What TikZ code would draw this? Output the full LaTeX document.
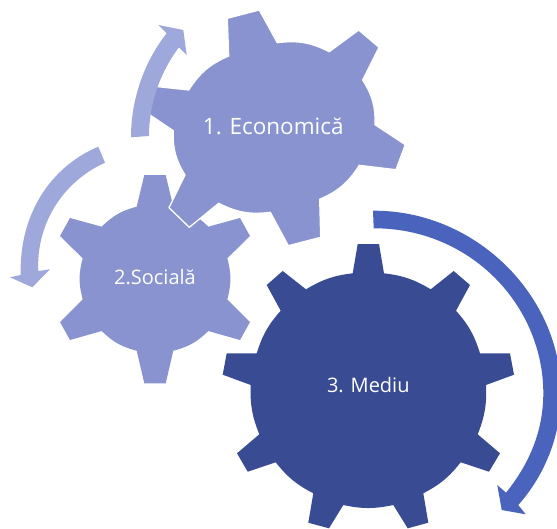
\documentclass[tikz,border=0pt]{standalone}
\usepackage{fontspec}
\setmainfont{Open Sans}
\definecolor{gearlight}{HTML}{8893CF}
\definecolor{geardark}{HTML}{394B93}
\definecolor{arrowlight}{HTML}{9FA8DA}
\definecolor{arrowdark}{HTML}{4A63BD}
\tikzset{
  gearsoft/.style={fill=gearlight},
  gearedge/.style={fill=gearlight,draw=white,line width=1.3pt,line join=miter},
  gearhard/.style={fill=geardark},
  turnsoft/.style={fill=arrowlight},
  turnhard/.style={fill=arrowdark},
  gearlabel/.style={text=white,inner sep=0pt}
}
\begin{document}
\begin{tikzpicture}[x=1pt,y=-1pt]
\path[use as bounding box] (0,0) rectangle (557,528);
\clip (0,0) rectangle (557,528);
% second gear
\path[gearsoft] (144.3,175) -- (165.7,175) -- (173.3,206.7) to[bend left=15] (208.3,226.7)
  -- (240,218) -- (250,236) -- (227.3,258.3) to[bend left=15] (227.3,299.3)
  -- (250,322) -- (240,340) -- (208.3,331) to[bend left=15] (173.3,350.7)
  -- (165.7,383.3) -- (144.3,383.3) -- (136.7,350.7) to[bend left=15] (101.7,331)
  -- (70,340) -- (60,322) -- (82.7,299.3) to[bend left=15] (82.7,258.3)
  -- (60,236) -- (70,218) -- (101.7,226.7) to[bend left=15] (136.7,206.7) -- cycle;
% first gear
\path[gearedge] (227.3,18.3) -- (259.3,10) -- (277.3,42.7) to[bend left=17] (329.3,51.7)
  -- (358.7,30) -- (379,47.3) -- (362.7,80) to[bend left=17] (375,124.7)
  -- (405.3,144.7) -- (396,169.7) -- (359.3,165.3) to[bend left=17] (319.7,199.3)
  -- (320.7,237.3) -- (288.3,245.7) -- (270.3,212.3) to[bend left=17] (218.7,203.3)
  -- (189.3,227.3) -- (169,207.7) -- (185,175) to[bend left=17] (173.3,130.7)
  -- (142.7,110) -- (151.7,86) -- (188.7,90) to[bend left=17] (228.7,56) -- cycle;
% third gear
\path[gearhard] (357.7,244) -- (379,244) -- (384,273.3) to[bend left=12] (430.7,289.3)
  -- (453.7,271) -- (470,285) -- (456,310.7) to[bend left=12] (480,353.3)
  -- (510,353.3) -- (514,374.7) -- (486,385) to[bend left=12] (477.7,434.3)
  -- (500,453.3) -- (489,471.7) -- (460.7,462.3) to[bend left=12] (423.3,493.3)
  -- (428.3,522.7) -- (407.7,528.3) -- (393.3,505) to[bend left=12] (343.3,505)
  -- (329,528.3) -- (308.3,522.7) -- (313.3,493.3) to[bend left=12] (275.7,462.3)
  -- (247.7,471.7) -- (237,453.3) -- (259.3,434.3) to[bend left=12] (250.7,385)
  -- (222.7,374.7) -- (226.7,353.3) -- (256.7,353.3) to[bend left=12] (280.7,310.7)
  -- (266.7,285) -- (282.7,271) -- (306,289.3) to[bend left=12] (352.7,273.3) -- cycle;
% turning arrows
\path[turnsoft] (131,137.3) .. controls (131,95) and (147,58) .. (166.7,33.3)
  -- (158.3,25) -- (183.3,30) -- (186.7,55) -- (179,47.3)
  .. controls (163,68) and (149,100) .. (149,136) -- cycle;
\path[turnsoft] (98.3,146.7) .. controls (50,167) and (19,215) .. (20.7,275)
  -- (10,277.3) -- (32.3,287.3) -- (50,269.3) -- (38.3,271)
  .. controls (36,225) and (62,182) .. (105,162.7) -- cycle;
\path[turnhard] (373,210.7) .. controls (475,210) and (561,295) .. (561,393)
  .. controls (561,435) and (545,475) .. (518.3,505)
  -- (525.7,514.3) -- (501.7,510) -- (497.3,485) -- (506,492.7)
  .. controls (530,463) and (543.3,430) .. (543.3,393.3)
  .. controls (543.3,305) and (470,228) .. (373.7,228.3) -- cycle;
% labels
\node[gearlabel,font=\fontsize{22.5}{26}\selectfont] (economica) at (273.3,126.7) {1. Economică};
\node[gearlabel,font=\fontsize{20}{24}\selectfont] (sociala) at (155,277) {2.Socială};
\node[gearlabel,font=\fontsize{20}{24}\selectfont] (mediu) at (368.3,385.5) {3. Mediu};
\end{tikzpicture}
\end{document}
